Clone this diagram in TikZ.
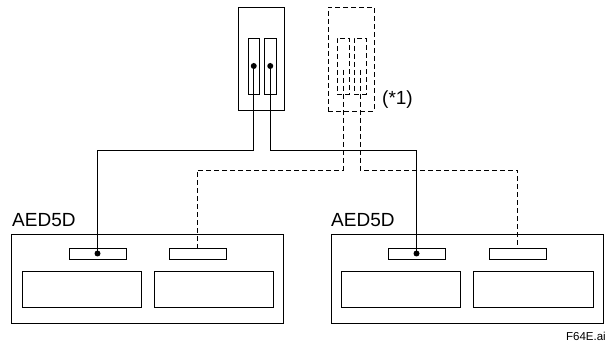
\documentclass[tikz,border=0pt]{standalone}
\usepackage{fontspec}
\setmainfont{Liberation Sans}
\begin{document}
\begin{tikzpicture}[x=1pt,y=-1pt,
  box/.style={draw,line width=0.9pt,inner sep=0pt,outer sep=0pt,anchor=north west},
  dbox/.style={box,dash pattern=on 5pt off 3pt},
  wire/.style={line width=0.9pt},
  dwire/.style={wire,dash pattern=on 5pt off 3pt},
  dotm/.style={fill,circle,inner sep=0pt,minimum size=6pt},
  lab/.style={inner sep=0pt,font=\fontsize{19}{19}\selectfont}]
\useasboundingbox (0,0) rectangle (606,344);
% switch (solid)
\node[box,minimum width=46pt,minimum height=103pt] (sw) at (238,7) {};
\node[box,minimum width=11.5pt,minimum height=56pt] (sw1) at (248,38) {};
\node[box,minimum width=11.5pt,minimum height=56pt] (sw2) at (264.5,38) {};
\node[dotm] (d1) at (253.75,66) {};
\node[dotm] (d2) at (270.25,66) {};
% switch (dashed)
\node[dbox,minimum width=46pt,minimum height=104pt] (ds) at (328,7) {};
\node[dbox,minimum width=12pt,minimum height=56pt] (ds1) at (337,38) {};
\node[dbox,minimum width=12pt,minimum height=56pt] (ds2) at (354,38) {};
\coordinate (e1) at (343,70);
\coordinate (e2) at (360,70);
\node[lab,anchor=base west] (note) at (382,105) {(*1)};
% left AED5D
\node[box,minimum width=272pt,minimum height=89pt] (la) at (11,234) {};
\node[box,minimum width=57pt,minimum height=11pt] (la1) at (69,248) {};
\node[box,minimum width=57pt,minimum height=11pt] (la2) at (169,248) {};
\node[box,minimum width=119pt,minimum height=36pt] (la3) at (22,271) {};
\node[box,minimum width=119pt,minimum height=36pt] (la4) at (154,271) {};
\node[dotm] (ld) at (la1.center) {};
\node[lab,anchor=base west] (llab) at (12,227) {AED5D};
% right AED5D
\node[box,minimum width=272pt,minimum height=89pt] (ra) at (331,234) {};
\node[box,minimum width=57pt,minimum height=11pt] (ra1) at (388,248) {};
\node[box,minimum width=57pt,minimum height=11pt] (ra2) at (489,248) {};
\node[box,minimum width=119pt,minimum height=36pt] (ra3) at (341,271) {};
\node[box,minimum width=120pt,minimum height=36pt] (ra4) at (473,271) {};
\node[dotm] (rd) at (ra1.center) {};
\node[lab,anchor=base west] (rlab) at (331,227) {AED5D};
% wires
\draw[wire] (d1.center) -- (d1.center |- 0,150) -| (ld.center);
\draw[wire] (d2.center) -- (d2.center |- 0,150) -| (rd.center);
\draw[dwire] (e1) -- (e1 |- 0,170) -| (la2.north);
\draw[dwire] (e2) -- (e2 |- 0,170) -| (ra2.north);
\node[inner sep=0pt,anchor=base east,font=\fontsize{11.5}{12}\selectfont] (fig) at (606,341) {F64E.ai};
\end{tikzpicture}
\end{document}
